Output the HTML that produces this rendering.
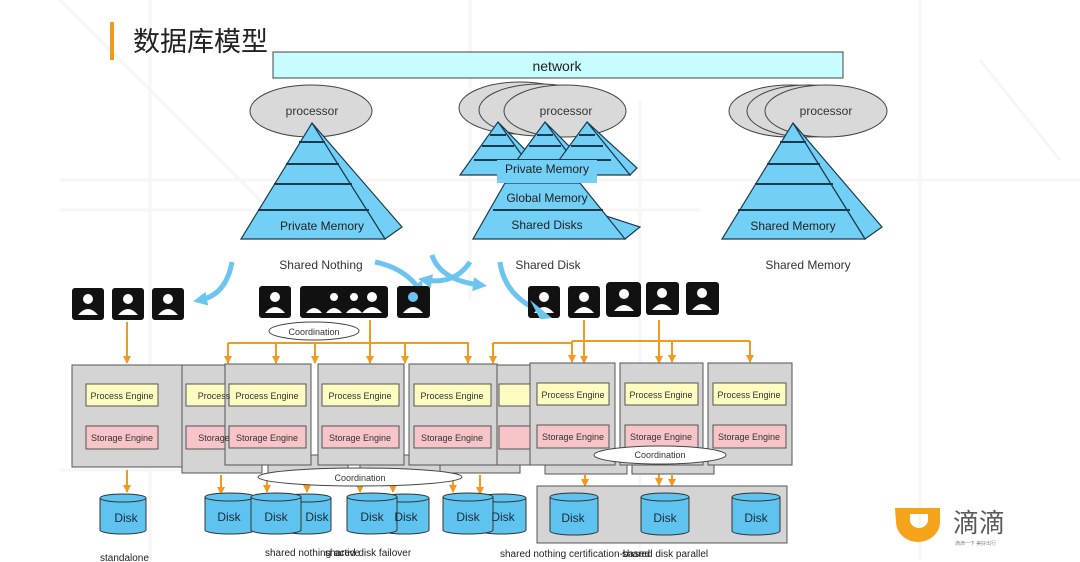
<!DOCTYPE html>
<html><head><meta charset="utf-8"><style>
html,body{margin:0;padding:0;background:#fff;}
svg{display:block;font-family:"Liberation Sans",Arial,sans-serif;}
</style></head><body>
<svg width="1080" height="562" viewBox="0 0 1080 562" xmlns="http://www.w3.org/2000/svg">
<defs>
<marker id="ar" markerWidth="8" markerHeight="8" refX="7" refY="4" orient="auto" markerUnits="userSpaceOnUse"><path d="M0,0 L8,4 L0,8 z" fill="#f39a1e"/></marker>
<marker id="ab" markerWidth="14" markerHeight="14" refX="7" refY="7" orient="auto" markerUnits="userSpaceOnUse"><path d="M0,0 L14,7 L0,14 z" fill="#6cc4f0"/></marker>
</defs>
<rect width="1080" height="562" fill="#fff"/>
<g stroke="#f6f6f6" stroke-width="3" fill="none">
<path d="M60,180 H1080 M60,210 H700 M150,0 V560 M470,0 V300 M640,100 V560 M920,0 V560 M60,470 H260 M60,0 L300,240 M980,60 L1060,160"/>
</g>
<!-- title -->
<rect x="110" y="22" width="4" height="38" fill="#f39a1e"/>
<text x="133" y="51" font-size="27" fill="#222" font-family="'Noto Sans CJK SC',sans-serif">数据库模型</text>
<!-- network -->
<rect x="273" y="52" width="570" height="26" fill="#c8fdff" stroke="#444" stroke-width="1"/>
<text x="557" y="71" font-size="14" text-anchor="middle" fill="#222">network</text>

<g stroke="#444" stroke-width="1" fill="#d9d9d9">
<ellipse cx="311" cy="111" rx="61" ry="26"/>
<ellipse cx="520" cy="108" rx="61" ry="26"/>
<ellipse cx="540" cy="110" rx="61" ry="26"/>
<ellipse cx="565" cy="111" rx="61" ry="26"/>
<ellipse cx="790" cy="111" rx="61" ry="26"/>
<ellipse cx="808" cy="111" rx="61" ry="26"/>
<ellipse cx="826" cy="111" rx="61" ry="26"/>
</g>
<g font-size="12" fill="#333" text-anchor="middle">
<text x="312" y="115">processor</text><text x="566" y="115">processor</text><text x="826" y="115">processor</text>
</g>

<g stroke="#1b3a4e" stroke-width="1.2" fill="#72d0f6">
<path d="M312,123 L402,227 L385,239 Z"/>
<path d="M312,123 L241,239 L385,239 Z"/>
<path d="M299,142H325 M286,164H339 M274,184H352 M258,210H369" stroke-width="2"/>
<path d="M793,123 L882,227 L865,239 Z"/>
<path d="M793,123 L722,239 L865,239 Z"/>
<path d="M780,142H806 M767,164H820 M755,184H833 M738,210H850" stroke-width="2"/>
<path d="M505,183 L640,227 L625,239 Z"/>
<path d="M505,183 L580,183 L625,239 L473,239 Z"/>
<path d="M493,210H603" stroke-width="2"/>
<path d="M498,122 L543,168 L536,175 Z"/>
<path d="M498,122 L536,175 L460,175 Z"/>
<path d="M545,122 L591,168 L584,175 Z"/>
<path d="M545,122 L584,175 L506,175 Z"/>
<path d="M587,122 L637,168 L630,175 Z"/>
<path d="M587,122 L630,175 L548,175 Z"/>
<path d="M490,135H506 M482,146H514 M474,160H522 M537,135H553 M529,146H561 M521,160H569 M579,135H595 M571,146H603 M563,160H611" stroke-width="2"/>
<rect x="497" y="160" width="100" height="23" stroke="none"/>
</g>
<g font-size="12" fill="#222" text-anchor="middle">
<text x="322" y="230">Private Memory</text>
<text x="547" y="173">Private Memory</text>
<text x="547" y="202">Global Memory</text>
<text x="547" y="229">Shared Disks</text>
<text x="793" y="230">Shared Memory</text>
<text x="321" y="269" fill="#333">Shared Nothing</text>
<text x="548" y="269" fill="#333">Shared Disk</text>
<text x="808" y="269" fill="#333">Shared Memory</text>
</g>

<g stroke="#6cc4f0" stroke-width="5" fill="none">
<path d="M232,262 Q226,295 200,300" marker-end="url(#ab)"/>
<path d="M375,262 Q405,268 420,290" marker-end="url(#ab)"/>
<path d="M432,255 Q440,280 480,285" marker-end="url(#ab)"/>
<path d="M470,262 Q455,285 425,280" marker-end="url(#ab)"/>
<path d="M500,262 Q505,300 550,315" marker-end="url(#ab)"/>
</g>

<g fill="#111">
<rect x="72" y="288" width="32" height="32" rx="3"/><rect x="112" y="288" width="32" height="32" rx="3"/><rect x="152" y="288" width="32" height="32" rx="3"/>
<rect x="259" y="286" width="32" height="32" rx="3"/><rect x="300" y="286" width="32" height="32" rx="3"/><rect x="320" y="286" width="32" height="32" rx="3"/><rect x="340" y="286" width="32" height="32" rx="3"/><rect x="356" y="286" width="32" height="32" rx="3"/>
<rect x="397" y="286" width="33" height="32" rx="3"/>
<rect x="528" y="286" width="32" height="32" rx="3"/><rect x="568" y="286" width="32" height="32" rx="3"/><rect x="606" y="282" width="35" height="35" rx="4"/><rect x="646" y="282" width="33" height="33" rx="3"/><rect x="686" y="282" width="33" height="33" rx="3"/>
</g>
<g fill="#fff">
<circle cx="88" cy="299" r="5"/><path d="M78,315 Q88,303 98,315Z"/>
<circle cx="128" cy="299" r="5"/><path d="M118,315 Q128,303 138,315Z"/>
<circle cx="168" cy="299" r="5"/><path d="M158,315 Q168,303 178,315Z"/>
<circle cx="275" cy="297" r="5"/><path d="M265,313 Q275,301 285,313Z"/>
<circle cx="372" cy="297" r="5"/><path d="M362,313 Q372,301 382,313Z"/>
<circle cx="334" cy="297" r="4"/><circle cx="354" cy="297" r="4"/>
<path d="M306,313 Q314,303 322,313Z M326,313 Q334,303 342,313Z M346,313 Q354,303 362,313Z"/>
<circle cx="413" cy="297" r="5" fill="#6cc4f0"/><path d="M403,313 Q413,301 423,313Z"/>
<circle cx="544" cy="297" r="5"/><path d="M534,313 Q544,301 554,313Z"/>
<circle cx="584" cy="297" r="5"/><path d="M574,313 Q584,301 594,313Z"/>
<circle cx="624" cy="294" r="5"/><path d="M614,311 Q624,299 634,311Z"/>
<circle cx="662" cy="293" r="5"/><path d="M652,310 Q662,298 672,310Z"/>
<circle cx="702" cy="293" r="5"/><path d="M692,310 Q702,298 712,310Z"/>
</g>
<path d="M530,300 L552,318 L540,319 Z" fill="#6cc4f0"/>

<g stroke="#f39a1e" stroke-width="2" fill="none">
<line x1="127" y1="322" x2="127" y2="363" marker-end="url(#ar)"/>
<line x1="127" y1="470" x2="127" y2="492" marker-end="url(#ar)"/>
<path d="M228,343 H469 M493,343 H572 M572,341 H750"/>
<line x1="370" y1="320" x2="370" y2="363" marker-end="url(#ar)"/>
<line x1="584" y1="320" x2="584" y2="363" marker-end="url(#ar)"/>
<line x1="659" y1="320" x2="659" y2="363" marker-end="url(#ar)"/>
<g marker-end="url(#ar)">
<line x1="228" y1="343" x2="228" y2="363"/><line x1="276" y1="343" x2="276" y2="363"/><line x1="315" y1="343" x2="315" y2="363"/><line x1="405" y1="343" x2="405" y2="363"/><line x1="468" y1="343" x2="468" y2="363"/><line x1="493" y1="343" x2="493" y2="363"/><line x1="572" y1="341" x2="572" y2="362"/><line x1="672" y1="341" x2="672" y2="362"/><line x1="750" y1="341" x2="750" y2="362"/>
<line x1="221" y1="475" x2="221" y2="494"/><line x1="267" y1="475" x2="267" y2="492"/><line x1="307" y1="475" x2="307" y2="492"/><line x1="360" y1="475" x2="360" y2="492"/><line x1="393" y1="475" x2="393" y2="492"/><line x1="453" y1="475" x2="453" y2="492"/><line x1="480" y1="475" x2="480" y2="494"/>
<line x1="585" y1="475" x2="585" y2="486"/><line x1="659" y1="465" x2="659" y2="485"/><line x1="672" y1="475" x2="672" y2="486"/>
</g>
</g>
<ellipse cx="314" cy="331" rx="45" ry="9" fill="#fff" stroke="#444"/>
<text x="314" y="335" font-size="9" text-anchor="middle" fill="#333">Coordination</text>

<g stroke="#555" stroke-width="1">
<rect x="72" y="365" width="111" height="102" fill="#d4d4d4"/>
<rect x="86" y="384" width="72" height="22" fill="#fdfcc0"/><rect x="86" y="426" width="72" height="23" fill="#f7c4c8"/>
<rect x="182" y="365" width="80" height="108" fill="#d4d4d4"/>
<rect x="186" y="384" width="60" height="22" fill="#fdfcc0"/><rect x="186" y="426" width="60" height="23" fill="#f7c4c8"/>
<rect x="268" y="455" width="80" height="18" fill="#d4d4d4"/><rect x="360" y="455" width="80" height="18" fill="#d4d4d4"/><rect x="440" y="455" width="80" height="18" fill="#d4d4d4"/>
<rect x="496" y="365" width="40" height="100" fill="#d4d4d4"/>
<rect x="499" y="384" width="36" height="22" fill="#fdfcc0"/><rect x="499" y="426" width="36" height="23" fill="#f7c4c8"/>
<rect x="225" y="364" width="86" height="101" fill="#d4d4d4"/>
<rect x="229" y="384" width="77" height="22" fill="#fdfcc0"/><rect x="229" y="426" width="77" height="22" fill="#f7c4c8"/>
<rect x="318" y="364" width="86" height="101" fill="#d4d4d4"/>
<rect x="322" y="384" width="77" height="22" fill="#fdfcc0"/><rect x="322" y="426" width="77" height="22" fill="#f7c4c8"/>
<rect x="409" y="364" width="88" height="101" fill="#d4d4d4"/>
<rect x="414" y="384" width="77" height="22" fill="#fdfcc0"/><rect x="414" y="426" width="77" height="22" fill="#f7c4c8"/>
<rect x="545" y="455" width="82" height="19" fill="#d4d4d4"/><rect x="632" y="455" width="82" height="19" fill="#d4d4d4"/>
<rect x="530" y="363" width="85" height="102" fill="#d4d4d4"/>
<rect x="537" y="383" width="72" height="22" fill="#fdfcc0"/><rect x="537" y="425" width="72" height="23" fill="#f7c4c8"/>
<rect x="620" y="363" width="83" height="102" fill="#d4d4d4"/>
<rect x="625" y="383" width="73" height="22" fill="#fdfcc0"/><rect x="625" y="425" width="73" height="23" fill="#f7c4c8"/>
<rect x="708" y="363" width="84" height="102" fill="#d4d4d4"/>
<rect x="713" y="383" width="73" height="22" fill="#fdfcc0"/><rect x="713" y="425" width="73" height="23" fill="#f7c4c8"/>
<rect x="537" y="486" width="250" height="57" fill="#d4d4d4"/>
</g>
<g font-size="9" fill="#333" text-anchor="middle">
<text x="122" y="399">Process Engine</text><text x="122" y="441">Storage Engine</text>
<text x="214" y="399">Process</text><text x="214" y="441">Storage</text>
<text x="267" y="399">Process Engine</text><text x="267" y="441">Storage Engine</text>
<text x="360" y="399">Process Engine</text><text x="360" y="441">Storage Engine</text>
<text x="452" y="399">Process Engine</text><text x="452" y="441">Storage Engine</text>
<text x="573" y="398">Process Engine</text><text x="573" y="440">Storage Engine</text>
<text x="661" y="398">Process Engine</text><text x="661" y="440">Storage Engine</text>
<text x="749" y="398">Process Engine</text><text x="749" y="440">Storage Engine</text>
</g>
<ellipse cx="360" cy="477" rx="102" ry="9" fill="#fff" stroke="#444"/>
<text x="360" y="481" font-size="9" text-anchor="middle" fill="#333">Coordination</text>
<ellipse cx="660" cy="455" rx="66" ry="9" fill="#fff" stroke="#444"/>
<text x="660" y="458" font-size="9" text-anchor="middle" fill="#333">Coordination</text>

<g stroke="#333" stroke-width="1" fill="#5ec4ef">
<g><path d="M100,498 V530 A23,4 0 0 0 146,530 V498"/><ellipse cx="123" cy="498" rx="23" ry="4"/></g>
<g><path d="M283,498 V530 A24,4 0 0 0 331,530 V498"/><ellipse cx="307" cy="498" rx="24" ry="4"/></g>
<g><path d="M381,498 V530 A24,4 0 0 0 429,530 V498"/><ellipse cx="405" cy="498" rx="24" ry="4"/></g>
<g><path d="M478,498 V530 A24,4 0 0 0 526,530 V498"/><ellipse cx="502" cy="498" rx="24" ry="4"/></g>
<g><path d="M205,497 V530 A25,4 0 0 0 255,530 V497"/><ellipse cx="230" cy="497" rx="25" ry="4"/></g>
<g><path d="M251,497 V530 A25,4 0 0 0 301,530 V497"/><ellipse cx="276" cy="497" rx="25" ry="4"/></g>
<g><path d="M347,497 V530 A25,4 0 0 0 397,530 V497"/><ellipse cx="372" cy="497" rx="25" ry="4"/></g>
<g><path d="M443,497 V530 A25,4 0 0 0 493,530 V497"/><ellipse cx="468" cy="497" rx="25" ry="4"/></g>
<g><path d="M550,497 V531 A24,4 0 0 0 598,531 V497"/><ellipse cx="574" cy="497" rx="24" ry="4"/></g>
<g><path d="M641,497 V531 A24,4 0 0 0 689,531 V497"/><ellipse cx="665" cy="497" rx="24" ry="4"/></g>
<g><path d="M732,497 V531 A24,4 0 0 0 780,531 V497"/><ellipse cx="756" cy="497" rx="24" ry="4"/></g>
</g>
<g font-size="12" fill="#1a2a3a" text-anchor="middle">
<text x="126" y="522">Disk</text><text x="317" y="521">Disk</text><text x="406" y="521">Disk</text><text x="503" y="521">Disk</text>
<text x="229" y="521">Disk</text><text x="276" y="521">Disk</text><text x="372" y="521">Disk</text><text x="468" y="521">Disk</text>
<text x="573" y="522">Disk</text><text x="665" y="522">Disk</text><text x="756" y="522">Disk</text>
</g>
<g font-size="10" fill="#222">
<text x="100" y="561">standalone</text>
<text x="265" y="556">shared nothing active</text>
<text x="325" y="556">shared disk failover</text>
<text x="500" y="557">shared nothing certification-based</text>
<text x="622" y="557">shared disk parallel</text>
</g>

<path d="M895,508 H940 V522 A22,20 0 0 1 896,522 Z M910,514 V520 A9,8 0 0 0 928,520 V514 Z" fill="#f5a31b" fill-rule="evenodd"/>
<text x="953" y="532" font-size="26" fill="#5a5a5a" font-family="'Noto Sans CJK SC',sans-serif">滴滴</text>
<text x="955" y="545" font-size="5" fill="#888" font-family="'Noto Sans CJK SC',sans-serif">滴滴一下 美好出行</text>
</svg>
</body></html>
